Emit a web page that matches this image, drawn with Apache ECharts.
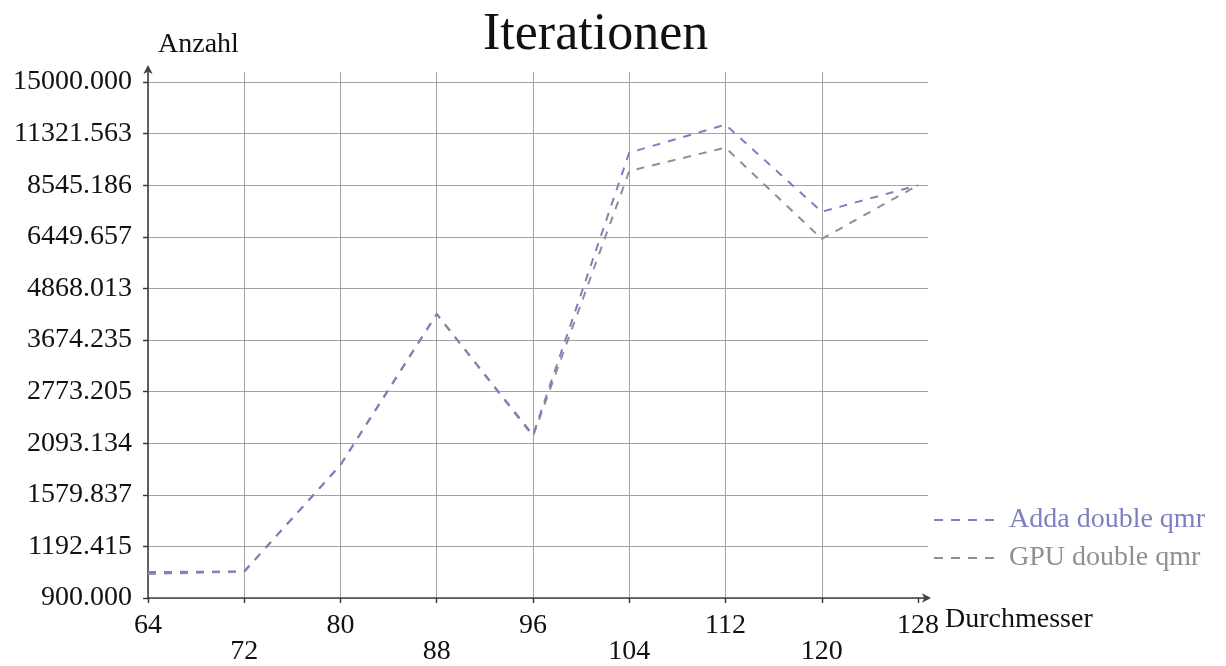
<!DOCTYPE html>
<html>
<head>
<meta charset="utf-8">
<script src="https://cdn.jsdelivr.net/npm/echarts@6/dist/echarts.min.js"></script>
<style>
html,body{margin:0;padding:0;background:#fff;}
#chart{width:1226px;height:666px;}
</style>
</head>
<body>
<div id="chart"></div>
<script>
// ---- data ----
var diameters = [64, 72, 80, 88, 96, 104, 112, 120, 128];
var addaDoubleQmr = [1037, 1040, 1859, 4234, 2189, 10203, 11883, 7395, 8545];
var gpuDoubleQmr  = [1026, 1040, 1859, 4234, 2175, 9232, 10487, 6373, 8545];
var seriesNames = ['Adda double qmr', 'GPU double qmr'];
var yMin = 900, yMax = 15000, yIntervals = 10;
var xMin = 64, xMax = 128, xStep = 8;

// ---- layout ----
var FONT = '"Liberation Serif", "Times New Roman", serif';
var PURPLE = '#7f7fbf', GRAY = '#8f8f8f';
var gridLeft = 148, gridRight = 928, gridTop = 72, gridBottom = 598;
var dataRightPx = 918, dataTopPx = 82;
// extend axis ranges a little beyond the last tick (as in the reference)
var xExt = xMax + (gridRight - dataRightPx) / (dataRightPx - gridLeft) * (xMax - xMin);
var logStep = Math.log10(yMax / yMin) / yIntervals;
var yExt = yMax * Math.pow(10, logStep * (dataTopPx - gridTop) / ((gridBottom - dataTopPx) / yIntervals));

function pairs(xs, ys) { return xs.map(function (x, i) { return [x, ys[i]]; }); }

var chart = echarts.init(document.getElementById('chart'), null, {renderer: 'canvas'});
chart.setOption({
  animation: false,
  backgroundColor: '#fff',
  textStyle: {fontFamily: FONT},
  title: {
    text: 'Iterationen',
    left: 483, top: 9, padding: 0,
    textStyle: {fontFamily: FONT, fontSize: 52, fontWeight: 'normal', color: '#111', lineHeight: 52}
  },
  legend: {
    orient: 'vertical',
    left: 933, top: 506, padding: 0,
    itemWidth: 65, itemHeight: 14, itemGap: 10,
    itemStyle: {opacity: 0},
    lineStyle: {width: 2, type: [9, 8]},
    data: [
      {name: seriesNames[0], textStyle: {color: PURPLE}},
      {name: seriesNames[1], textStyle: {color: GRAY}}
    ],
    textStyle: {fontFamily: FONT, fontSize: 28, lineHeight: 28, padding: [0, 0, 0, 5]}
  },
  grid: {left: gridLeft, right: 1226 - gridRight, top: gridTop, bottom: 666 - gridBottom, containLabel: false},
  xAxis: {
    type: 'value',
    min: xMin, max: xExt, interval: xStep,
    name: 'Durchmesser',
    nameLocation: 'end', nameGap: 17,
    nameTextStyle: {fontFamily: FONT, fontSize: 28, color: '#111', verticalAlign: 'top', lineHeight: 28, padding: [8, 0, 0, 0]},
    axisLine: {show: true, lineStyle: {color: '#444', width: 1.6}, symbol: ['none', 'arrow'], symbolSize: [7, 9], symbolOffset: [0, 3]},
    axisTick: {show: true, inside: false, length: 5, lineStyle: {color: '#333', width: 1.4}, customValues: diameters},
    axisLabel: {
      show: true, margin: 15,
      customValues: diameters,
      fontFamily: FONT, fontSize: 28, lineHeight: 26, color: '#111',
      formatter: function (v) {
        var i = diameters.indexOf(Math.round(v));
        if (i < 0 || v > xMax + 0.01) return '';
        return (i % 2 === 1) ? '\n' + Math.round(v) : String(Math.round(v));
      }
    },
    splitLine: {show: true, showMaxLine: false, lineStyle: {color: '#a3a3a3', width: 1}}
  },
  yAxis: {
    type: 'log', logBase: 10,
    min: yMin, max: yExt, interval: logStep,
    name: 'Anzahl',
    nameLocation: 'end', nameGap: 13,
    nameTextStyle: {fontFamily: FONT, fontSize: 28, color: '#111', align: 'left', verticalAlign: 'bottom', lineHeight: 28, padding: [0, 0, 0, 10]},
    axisLine: {show: true, lineStyle: {color: '#444', width: 1.6}, symbol: ['none', 'arrow'], symbolSize: [7, 9], symbolOffset: [0, 7]},
    axisTick: {show: true, inside: false, length: 5, lineStyle: {color: '#333', width: 1.4}},
    axisLabel: {
      show: true, margin: 16, showMaxLabel: false,
      fontFamily: FONT, fontSize: 28, color: '#111',
      formatter: function (v) { return v > yMax * 1.001 ? '' : v.toFixed(3); }
    },
    splitLine: {show: true, showMaxLine: false, lineStyle: {color: '#a3a3a3', width: 1}},
    minorTick: {show: false}, minorSplitLine: {show: false}
  },
  series: [
    {
      name: seriesNames[1], type: 'line', symbol: 'none', z: 2,
      data: pairs(diameters, gpuDoubleQmr),
      lineStyle: {color: GRAY, width: 2, type: [8, 8]},
      itemStyle: {color: GRAY}
    },
    {
      name: seriesNames[0], type: 'line', symbol: 'none', z: 3,
      data: pairs(diameters, addaDoubleQmr),
      lineStyle: {color: PURPLE, width: 2, type: [8, 8]},
      itemStyle: {color: PURPLE}
    }
  ]
});
</script>
</body>
</html>
